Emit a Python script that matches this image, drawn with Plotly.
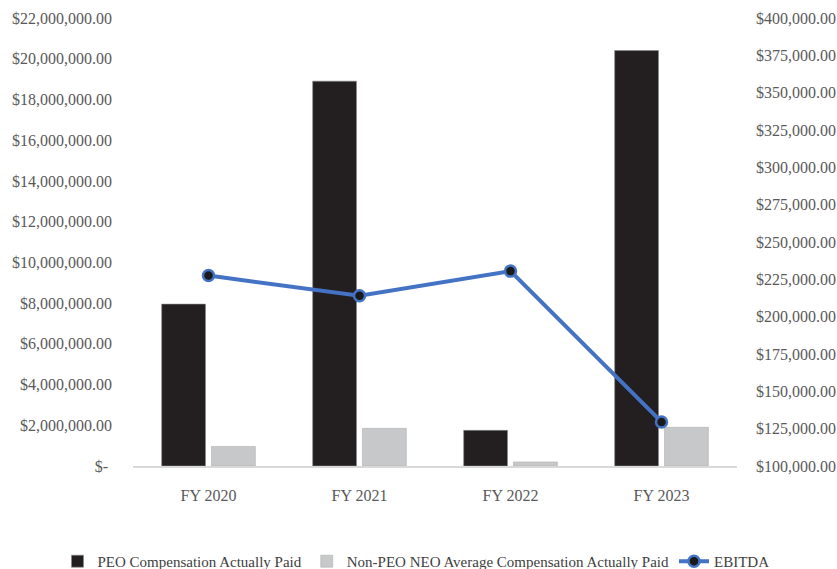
import plotly.graph_objects as go

# Fiscal years and series values
years = ["FY 2020", "FY 2021", "FY 2022", "FY 2023"]
peo_cap = [7950000, 18900000, 1750000, 20400000]
non_peo_cap = [960000, 1850000, 200000, 1900000]
ebitda = [227500, 214000, 230500, 129500]

# Axis ticks
left_ticks = list(range(0, 22000001, 2000000))
left_text = ["$-\u00a0" if v == 0 else "${:,.2f}".format(v) for v in left_ticks]
right_ticks = list(range(100000, 400001, 25000))
right_text = ["${:,.2f}".format(v) for v in right_ticks]

font_family = "Liberation Serif, Times New Roman, serif"
tick_color = "#595959"

fig = go.Figure()
fig.add_trace(go.Bar(
    x=years, y=peo_cap, name="PEO Compensation Actually Paid",
    marker=dict(color="#231f20", line=dict(color="#8a8a8a", width=0.6)),
))
fig.add_trace(go.Bar(
    x=years, y=non_peo_cap, name="Non-PEO NEO Average Compensation Actually Paid",
    marker=dict(color="#c7c8ca", line=dict(color="#b0b0b0", width=0.6)),
))
fig.add_trace(go.Scatter(
    x=years, y=ebitda, name="EBITDA", yaxis="y2",
    mode="lines+markers",
    line=dict(color="#4472c4", width=4),
    marker=dict(color="#1a1a1a", size=11, line=dict(color="#4472c4", width=2.5)),
))

fig.update_layout(
    width=837, height=569,
    margin=dict(l=133, r=100, t=18, b=103, autoexpand=False),
    paper_bgcolor="white", plot_bgcolor="white",
    font=dict(family=font_family, size=16, color=tick_color),
    barmode="group", bargap=0.34, bargroupgap=0.12,
    showlegend=True,
    legend=dict(
        orientation="h", x=-0.125, xanchor="left", y=-0.213, yanchor="middle",
        font=dict(family=font_family, size=15, color="#404040"),
        tracegroupgap=0,
    ),
    xaxis=dict(
        showgrid=False, showline=True, linecolor="#d9d9d9", linewidth=1.5,
        ticks="", tickfont=dict(size=16, color=tick_color), ticklabelstandoff=14,
    ),
    yaxis=dict(
        range=[0, 22000000], tickvals=left_ticks, ticktext=left_text,
        showgrid=False, zeroline=False, showline=False, ticks="",
        tickfont=dict(size=16, color=tick_color), ticklabelstandoff=20,
    ),
    yaxis2=dict(
        range=[100000, 400000], tickvals=right_ticks, ticktext=right_text,
        overlaying="y", side="right",
        showgrid=False, zeroline=False, showline=False, ticks="",
        tickfont=dict(size=16, color=tick_color), ticklabelstandoff=18,
    ),
)

fig.write_html("out.html")
